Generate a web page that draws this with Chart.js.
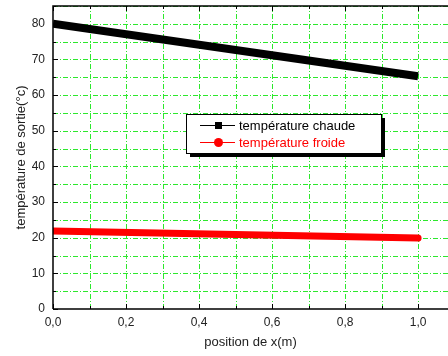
<!DOCTYPE html>
<html>
<head>
<meta charset="utf-8">
<script src="https://cdn.jsdelivr.net/npm/chart.js@4"></script>
<style>
  html, body { margin: 0; padding: 0; background: #fff; }
  #wrap { width: 448px; height: 356px; }
</style>
</head>
<body>
<div id="wrap"><canvas id="c" width="448" height="356"></canvas></div>
<script>
// values
const positions = [0.0, 1.0];
const tempChaude = [80.0, 65.3];
const tempFroide = [21.9, 19.9];
const xTickValues = [0, 0.1, 0.2, 0.3, 0.4, 0.5, 0.6, 0.7, 0.8, 0.9, 1.0];
const xTickLabels = ['0,0', '', '0,2', '', '0,4', '', '0,6', '', '0,8', '', '1,0'];
const yTickValues = [0, 5, 10, 15, 20, 25, 30, 35, 40, 45, 50, 55, 60, 65, 70, 75, 80, 85];
const yTickLabels = ['0', '', '10', '', '20', '', '30', '', '40', '', '50', '', '60', '', '70', '', '80', ''];
const seriesNames = ['température chaude', 'température froide'];

const FONT = 'Arial, "Liberation Sans", sans-serif';
const GRID = '#2de82d';

// green dash-dot grid under the lines
const gridPlugin = {
  id: 'greenGrid',
  beforeDatasetsDraw(chart) {
    const ctx = chart.ctx;
    const a = chart.chartArea;
    const xs = chart.scales.x, ys = chart.scales.y;
    ctx.save();
    ctx.strokeStyle = GRID;
    ctx.lineWidth = 1;
    ctx.setLineDash([5, 2, 1, 2]);
    xTickValues.forEach(v => {
      if (v === 0) return;
      const px = Math.round(xs.getPixelForValue(v)) + 0.5;
      ctx.beginPath();
      ctx.moveTo(px, a.bottom); ctx.lineTo(px, a.top);
      ctx.stroke();
    });
    yTickValues.forEach(v => {
      if (v === 0) return;
      const py = Math.round(ys.getPixelForValue(v)) + 0.5;
      ctx.beginPath();
      ctx.moveTo(a.left, py); ctx.lineTo(a.right, py);
      ctx.stroke();
    });
    ctx.restore();
  }
};

// frame, inward ticks and the boxed legend
const framePlugin = {
  id: 'frame',
  afterDatasetsDraw(chart) {
    const ctx = chart.ctx;
    const a = chart.chartArea;
    const xs = chart.scales.x, ys = chart.scales.y;
    ctx.save();
    ctx.strokeStyle = '#000';
    ctx.lineWidth = 1.5;
    ctx.beginPath();
    ctx.moveTo(a.left, a.bottom); ctx.lineTo(a.right + 2, a.bottom);
    ctx.moveTo(a.left, a.bottom); ctx.lineTo(a.left, a.top);
    ctx.lineTo(a.right + 2, a.top);
    ctx.stroke();
    ctx.lineWidth = 1;
    xTickValues.forEach((v, i) => {
      const px = Math.round(xs.getPixelForValue(v)) + 0.5;
      const len = xTickLabels[i] ? 5 : 3;
      ctx.beginPath();
      ctx.moveTo(px, a.bottom); ctx.lineTo(px, a.bottom - len);
      ctx.moveTo(px, a.top); ctx.lineTo(px, a.top + len);
      ctx.stroke();
    });
    yTickValues.forEach((v, i) => {
      const py = Math.round(ys.getPixelForValue(v)) + 0.5;
      const len = yTickLabels[i] ? 5 : 3;
      ctx.beginPath();
      ctx.moveTo(a.left, py); ctx.lineTo(a.left + len, py);
      ctx.stroke();
    });

    // legend box
    const bx = 186, by = 114, bw = 195, bh = 39;
    ctx.fillStyle = '#000';
    ctx.fillRect(bx + 4, by + 4, bw, bh);
    ctx.fillStyle = '#fff';
    ctx.fillRect(bx, by, bw, bh);
    ctx.strokeStyle = '#000';
    ctx.lineWidth = 1;
    ctx.strokeRect(bx + 0.5, by + 0.5, bw, bh);
    ctx.font = '13px ' + FONT;
    ctx.textBaseline = 'middle';
    chart.data.datasets.forEach((ds, i) => {
      const cy = by + 11 + i * 17;
      const col = ds.borderColor;
      ctx.strokeStyle = col;
      ctx.lineWidth = 1;
      ctx.beginPath();
      ctx.moveTo(bx + 14, cy + 0.5); ctx.lineTo(bx + 49, cy + 0.5);
      ctx.stroke();
      ctx.fillStyle = col;
      if (i === 0) {
        ctx.fillRect(bx + 29, cy - 3, 7, 7);
      } else {
        ctx.beginPath();
        ctx.arc(bx + 32.5, cy + 0.5, 4.5, 0, Math.PI * 2);
        ctx.fill();
      }
      ctx.fillText(ds.label, bx + 53, cy + 1);
    });
    ctx.restore();
  }
};

const toPoints = (xs, ys) => xs.map((x, i) => ({ x: x, y: ys[i] }));

new Chart(document.getElementById('c').getContext('2d'), {
  type: 'line',
  data: {
    datasets: [
      {
        label: seriesNames[0],
        data: toPoints(positions, tempChaude),
        borderColor: '#000000',
        backgroundColor: '#000000',
        borderWidth: 8,
        borderCapStyle: 'butt',
        pointRadius: 0
      },
      {
        label: seriesNames[1],
        data: toPoints(positions, tempFroide),
        borderColor: '#ff0000',
        backgroundColor: '#ff0000',
        borderWidth: 7,
        borderCapStyle: 'round',
        pointRadius: 0
      }
    ]
  },
  options: {
    responsive: false,
    animation: false,
    layout: { padding: { top: 6, right: 0, left: 0, bottom: 0 } },
    plugins: { legend: { display: false }, tooltip: { enabled: false } },
    scales: {
      x: {
        type: 'linear',
        min: 0,
        max: 1.082,
        afterBuildTicks: s => { s.ticks = xTickValues.map(v => ({ value: v })); },
        afterFit: s => { s.height = 47; s.paddingLeft = 0; s.paddingRight = 0; },
        ticks: {
          autoSkip: false,
          maxRotation: 0,
          padding: 6,
          color: '#222',
          font: { family: FONT, size: 12 },
          callback: (v, i) => xTickLabels[i]
        },
        grid: { display: false, drawTicks: false },
        border: { display: false },
        title: {
          display: true,
          text: 'position de x(m)',
          color: '#222',
          font: { family: FONT, size: 13 },
          padding: { top: 0, bottom: 6 }
        }
      },
      y: {
        min: 0,
        max: 85,
        afterBuildTicks: s => { s.ticks = yTickValues.map(v => ({ value: v })); },
        afterFit: s => { s.width = 53; s.paddingTop = 0; s.paddingBottom = 0; },
        ticks: {
          autoSkip: false,
          padding: 8,
          color: '#222',
          font: { family: FONT, size: 12 },
          callback: (v, i) => yTickLabels[i]
        },
        grid: { display: false, drawTicks: false },
        border: { display: false },
        title: {
          display: true,
          text: 'température de sortie(°c)',
          color: '#222',
          font: { family: FONT, size: 13 },
          padding: { top: 14, bottom: 0 }
        }
      }
    }
  },
  plugins: [gridPlugin, framePlugin]
});
</script>
</body>
</html>
